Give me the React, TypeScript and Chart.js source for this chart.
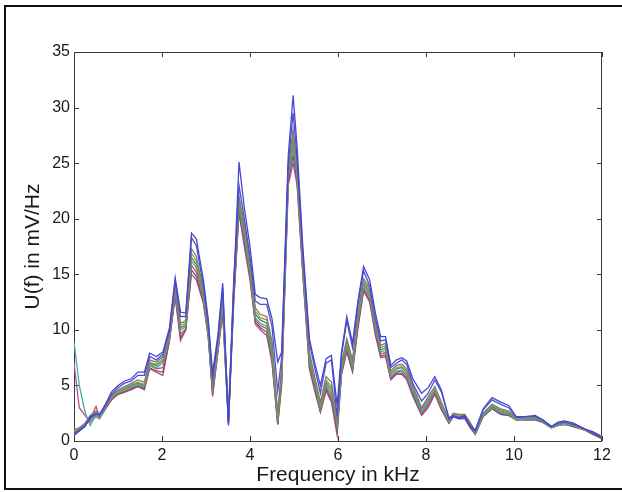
import React, { useEffect, useRef } from "react";
import { Chart, registerables } from "chart.js";

Chart.register(...registerables);

const freq = [0,0.12,0.25,0.37,0.5,0.58,0.7,0.85,1.0,1.15,
1.3,1.45,1.6,1.72,1.87,2.02,2.17,2.3,2.42,2.54,
2.67,2.78,2.94,3.05,3.15,3.27,3.38,3.51,3.63,3.75,
3.87,4.0,4.12,4.23,4.38,4.5,4.63,4.72,4.87,4.98,
5.07,5.2,5.35,5.47,5.6,5.73,5.85,5.98,6.08,6.2,
6.33,6.45,6.58,6.72,6.85,6.97,7.08,7.2,7.33,7.45,
7.56,7.7,7.9,8.05,8.2,8.35,8.52,8.62,8.75,8.88,
9.0,9.12,9.3,9.5,9.7,9.88,10.05,10.25,10.48,10.65,
10.85,11.0,11.15,11.35,11.6,11.8,12.0];

const blue1 = [0.5,0.9,1.3,2.2,2.4,2.4,3.2,4.4,5.0,5.4,
5.6,6.2,6.2,7.9,7.6,8.0,10.2,14.7,11.6,11.5,
18.7,18.2,14.5,11.0,6.1,9.5,14.2,1.4,14.0,25.1,
21.0,17.5,13.2,12.9,12.8,11.0,7.1,8.0,25.7,31.1,
26.5,17.5,9.2,7.0,5.0,7.4,7.7,3.2,8.0,11.2,
8.8,12.5,15.7,14.5,11.5,9.4,9.4,6.8,7.3,7.5,
7.2,5.6,4.3,4.8,5.8,4.6,2.0,2.2,2.0,2.2,
1.4,1.0,2.9,3.9,3.5,3.2,2.2,2.2,2.3,1.9,
1.3,1.7,1.8,1.6,1.1,0.8,0.3];

const blue2 = [0.6,1.0,1.4,2.1,2.5,2.3,3.1,4.2,4.8,5.2,
5.4,5.9,5.9,7.6,7.3,7.8,9.9,14.4,11.2,11.2,
18.3,17.6,14.0,10.6,5.7,9.2,13.8,1.7,13.5,23.0,
20.0,16.6,12.6,12.3,12.3,10.3,4.5,7.5,25.0,29.5,
25.5,17.0,8.8,6.6,4.3,7.0,7.3,2.2,7.7,10.8,
8.4,12.2,15.3,14.0,11.0,9.0,9.1,6.6,7.0,7.3,
6.9,5.2,3.6,4.3,5.5,4.4,2.1,2.3,2.1,2.3,
1.3,0.9,2.8,3.7,3.3,3.0,2.1,2.2,2.2,1.9,
1.3,1.6,1.7,1.5,1.1,0.7,0.3];

const gray = [1.0,1.2,1.6,2.3,2.7,2.4,3.1,4.1,4.6,4.9,
5.2,5.5,5.3,7.3,7.1,7.6,9.8,13.9,10.6,10.8,
17.3,16.6,13.6,10.4,5.4,8.9,13.0,2.2,14.5,22.0,
19.5,16.2,12.0,11.4,11.2,9.0,2.5,6.6,24.5,28.0,
25.0,16.5,8.0,5.8,3.5,5.8,5.3,2.0,7.0,9.2,
7.3,11.5,14.6,13.8,10.7,8.6,8.8,6.3,6.8,6.9,
6.5,5.0,3.0,4.0,4.9,3.5,1.9,2.5,2.4,2.4,
1.7,0.8,2.5,3.3,2.9,2.7,2.1,2.2,2.2,1.9,
1.3,1.5,1.7,1.5,1.1,0.8,0.4];

const olive = [0.9,1.1,1.5,2.2,2.6,2.3,3.0,4.0,4.5,4.8,
5.1,5.3,5.1,7.1,6.9,7.4,9.6,13.7,10.4,10.6,
16.9,16.2,13.3,10.2,5.2,8.7,12.7,2.1,14.0,21.7,
19.2,15.8,11.7,11.1,10.9,8.6,2.2,6.4,24.2,27.6,
24.6,16.2,7.7,5.5,3.2,5.5,4.9,1.8,6.8,9.0,
7.1,11.2,14.4,13.6,10.5,8.4,8.6,6.1,6.6,6.7,
6.3,4.8,2.9,3.8,4.7,3.3,1.8,2.4,2.3,2.3,
1.6,0.8,2.4,3.2,2.8,2.6,2.0,2.1,2.1,1.8,
1.3,1.5,1.6,1.4,1.0,0.8,0.4];

const green = [0.8,1.0,1.5,2.1,2.6,2.3,3.0,4.0,4.5,4.7,
5.0,5.2,5.0,7.0,6.8,7.2,9.5,13.6,10.2,10.4,
16.5,15.9,13.1,10.0,5.0,8.5,12.5,2.0,13.5,21.5,
19.0,15.5,11.4,10.9,10.6,8.2,2.0,6.2,24.0,27.3,
24.3,16.0,7.4,5.3,3.0,5.3,4.6,1.6,6.6,8.8,
6.9,11.0,14.2,13.4,10.3,8.2,8.4,6.0,6.5,6.6,
6.2,4.7,2.8,3.7,4.6,3.2,1.8,2.4,2.3,2.3,
1.6,0.8,2.4,3.1,2.7,2.5,2.0,2.1,2.1,1.8,
1.3,1.5,1.6,1.4,1.0,0.8,0.4];

const red = [0.9,1.1,1.5,2.0,3.1,2.2,2.9,3.8,4.3,4.5,
4.8,5.0,4.8,6.8,6.5,6.6,9.2,13.3,9.6,10.1,
15.8,15.2,12.7,9.6,4.5,8.2,12.0,1.7,13.0,21.0,
18.3,14.9,10.9,10.4,10.1,7.6,1.6,5.6,23.6,26.5,
23.6,15.4,7.0,4.9,2.7,4.9,4.0,1.2,6.3,8.4,
6.5,10.6,13.8,13.0,9.9,7.8,8.0,5.7,6.2,6.3,
5.9,4.4,2.5,3.4,4.4,3.0,1.7,2.3,2.2,2.2,
1.5,0.7,2.3,3.0,2.5,2.4,1.9,2.0,2.0,1.8,
1.2,1.4,1.6,1.4,1.0,0.7,0.3];

const cyan = [8.9,5.0,2.6,1.4,2.4,2.0,2.9,3.9,4.4,4.6,
4.9,5.1,4.9,6.9,6.6,7.0,9.4,13.5,10.0,10.3,
16.2,15.6,12.9,9.8,4.8,8.3,12.3,1.9,13.2,21.2,
18.6,15.2,11.1,10.6,10.3,7.8,1.8,5.9,23.8,26.8,
23.9,15.7,7.2,5.1,2.9,5.1,4.3,1.4,6.4,8.6,
6.7,10.8,14.0,13.2,10.1,8.0,8.2,5.8,6.3,6.4,
6.0,4.5,2.6,3.5,4.5,3.1,1.7,2.3,2.2,2.3,
1.5,0.7,2.3,3.0,2.6,2.4,1.9,2.0,2.0,1.8,
1.2,1.4,1.5,1.4,1.0,0.7,0.3];

const darkgray = [0.7,0.9,1.4,1.9,2.4,2.1,2.8,3.7,4.2,4.4,
4.7,4.9,4.7,6.6,6.3,6.2,9.1,13.1,9.3,10.0,
15.4,14.8,12.5,9.5,4.2,8.1,11.7,1.6,12.7,20.7,
17.9,14.7,10.7,10.2,9.8,7.3,1.5,5.3,23.3,25.7,
23.3,15.2,6.7,4.7,2.6,4.7,3.7,0.8,6.1,8.2,
6.3,10.3,13.6,12.7,9.7,7.6,7.8,5.6,6.1,6.1,
5.7,4.2,2.4,3.2,4.3,2.9,1.6,2.2,2.1,2.1,
1.3,0.6,2.2,2.9,2.4,2.3,1.9,1.9,1.9,1.7,
1.2,1.4,1.5,1.3,1.0,0.6,0.2];

const magenta = [7.0,3.0,2.3,1.7,2.2,2.0,2.8,3.7,4.2,4.4,
4.6,4.9,4.6,6.5,6.2,5.9,9.0,13.0,9.0,10.0,
15.0,14.5,12.4,9.4,4.0,8.0,11.5,1.5,12.5,20.5,
17.5,14.5,10.5,10.0,9.5,7.0,1.5,5.0,23.0,25.0,
23.0,15.0,6.5,4.5,2.6,4.5,3.5,0.5,6.0,8.0,
6.2,10.0,13.5,12.5,9.5,7.5,7.6,5.5,6.0,6.0,
5.5,4.0,2.3,3.0,4.2,2.8,1.6,2.2,2.0,2.0,
1.2,0.6,2.2,2.9,2.4,2.3,1.9,1.9,1.9,1.7,
1.2,1.4,1.5,1.3,1.0,0.6,0.2];

const xTicks = [0, 2, 4, 6, 8, 10, 12];
const yTicks = [0, 5, 10, 15, 20, 25, 30, 35];

const seriesList = [
  { name: "blue1", values: blue1, color: "#4646d4" },
  { name: "blue2", values: blue2, color: "#5050cc" },
  { name: "gray", values: gray, color: "#7a7a7a" },
  { name: "olive", values: olive, color: "#9a9a48" },
  { name: "green", values: green, color: "#4b8f5a" },
  { name: "cyan", values: cyan, color: "#3fb0a5" },
  { name: "red", values: red, color: "#d04a5c" },
  { name: "darkgray", values: darkgray, color: "#5e5e6e" },
  { name: "magenta", values: magenta, color: "#c24a9c" },
];

const boxPlugin = {
  id: "matlabBox",
  beforeDatasetsDraw(chart: any) {
    const { ctx, chartArea, scales } = chart;
    const { left, right, top, bottom } = chartArea;
    ctx.save();
    ctx.strokeStyle = "#3a3a3a";
    ctx.lineWidth = 1;
    ctx.strokeRect(left + 0.5, top + 0.5, right - left - 1, bottom - top);
    const tl = 5;
    ctx.beginPath();
    for (const v of xTicks) {
      const px = Math.round(scales.x.getPixelForValue(v)) + 0.5;
      ctx.moveTo(px, bottom);
      ctx.lineTo(px, bottom - tl);
      ctx.moveTo(px, top);
      ctx.lineTo(px, top + tl);
    }
    for (const v of yTicks) {
      const py = Math.round(scales.y.getPixelForValue(v)) + 0.5;
      ctx.moveTo(left, py);
      ctx.lineTo(left + tl, py);
      ctx.moveTo(right, py);
      ctx.lineTo(right - tl, py);
    }
    ctx.stroke();
    ctx.restore();
  },
};

export default function App() {
  const ref = useRef<HTMLCanvasElement>(null);
  useEffect(() => {
    if (!ref.current) return;
    const font = "'Liberation Sans', Arial, sans-serif";
    const chart = new Chart(ref.current, {
      type: "line",
      data: {
        datasets: seriesList.map((s) => ({
          label: s.name,
          data: freq.map((f, i) => ({ x: f, y: s.values[i] })),
          borderColor: s.color,
          borderWidth: 1.3,
          pointRadius: 0,
          tension: 0,
          fill: false,
        })),
      },
      options: {
        responsive: false,
        animation: false,
        events: [],
        layout: { padding: { left: 0, top: 52, right: 20, bottom: 0 } },
        plugins: { legend: { display: false }, tooltip: { enabled: false } },
        scales: {
          x: {
            type: "linear",
            min: 0,
            max: 12,
            afterFit: (s: any) => { s.height = 51; },
            afterBuildTicks: (s: any) => { s.ticks = xTicks.map((v) => ({ value: v })); },
            grid: { display: false, drawTicks: false },
            border: { display: false },
            ticks: { padding: 5, color: "#1a1a1a", font: { family: font, size: 16 } },
            title: {
              display: true,
              text: "Frequency in kHz",
              color: "#1a1a1a",
              font: { family: font, size: 21 },
              padding: 4,
            },
          },
          y: {
            type: "linear",
            min: 0,
            max: 35,
            afterFit: (s: any) => { s.width = 74; },
            afterBuildTicks: (s: any) => { s.ticks = yTicks.map((v) => ({ value: v })); },
            grid: { display: false, drawTicks: false },
            border: { display: false },
            ticks: { padding: 4, color: "#1a1a1a", font: { family: font, size: 16 } },
            title: {
              display: true,
              text: "U(f) in mV/Hz",
              color: "#1a1a1a",
              font: { family: font, size: 21 },
              padding: 21,
            },
          },
        },
      },
      plugins: [boxPlugin],
    });
    return () => chart.destroy();
  }, []);

  return (
    <div style={{ position: "absolute", left: 0, top: 0, width: 622, height: 492, background: "#fff", overflow: "hidden" }}>
      <canvas ref={ref} width={622} height={492} style={{ position: "absolute", left: 0, top: 0, width: 622, height: 492 }} />
      <div
        style={{
          position: "absolute",
          left: 4,
          top: 5,
          width: 618,
          height: 481,
          borderLeft: "2px solid #111",
          borderTop: "2px solid #111",
          borderBottom: "2px solid #111",
          pointerEvents: "none",
        }}
      />
    </div>
  );
}
